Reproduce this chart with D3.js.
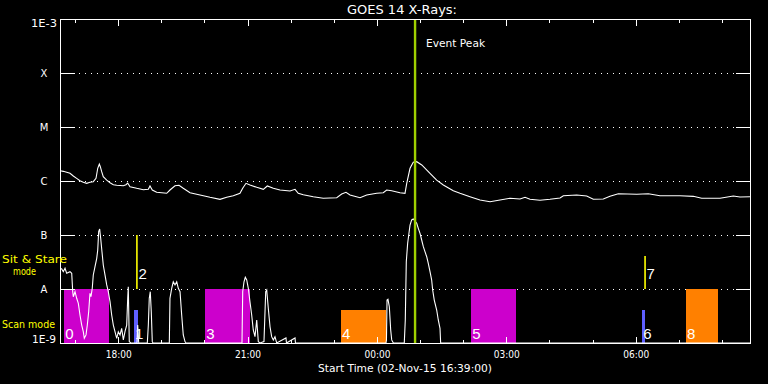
<!DOCTYPE html>
<html><head><meta charset="utf-8">
<script src="https://cdn.jsdelivr.net/npm/d3@7"></script>
<style>html,body{margin:0;padding:0;background:#000;overflow:hidden}</style>
</head><body>
<svg id="chart" width="768" height="384"></svg>
<script>
// ---------------- DATA ----------------
const startTime = "2015-11-02T16:39:00Z";
const spanHours = 16;
const titleText = "GOES 14 X-Rays:";
const xTitle = "Start Time (02-Nov-15 16:39:00)";
const classLevels = [1e-9, 1e-8, 1e-7, 1e-6, 1e-5, 1e-4, 1e-3];
const classLabels = ["1E-9", "A", "B", "C", "M", "X", "1E-3"];
const peakMinute = 494;            // Event Peak (00:53)
const peakLabel = "Event Peak";

// long channel (1-8 A), minutes after start, flux in 1e-6 W/m2
const longMinutes = [0,4.6,9.3,13.9,18.5,23.2,27.8,32.4,37.1,41.7,
  46.3,50.1,52.5,54.7,56.1,58.0,60.2,65.0,69.6,74.2,
  78.9,88.1,91.8,94.2,97.4,106.7,115.9,122.9,125.2,128.4,
  134.5,148.5,153.0,160.0,165.6,171.5,180.9,194.8,208.7,222.6,
  231.9,241.1,250.4,254.2,258.8,264.3,273.7,282.9,288.4,296.8,
  306.1,320.0,327.0,331.5,338.5,352.4,366.3,385.0,391.9,397.9,
  403.5,417.4,426.7,440.6,449.8,454.5,461.5,473.0,480.0,482.4,
  487.0,491.5,496.3,503.3,514.8,524.1,533.3,547.2,556.5,570.4,
  584.3,598.3,612.2,626.1,640.0,647.0,653.9,667.8,681.7,695.7,
  700.3,718.9,732.8,742.0,755.9,765.2,776.8,802.4,818.5,834.8,
  862.6,881.1,892.8,918.3,936.8,946.1,960];
const longFluxMicro = [1.55,1.51,1.45,1.39,1.24,1.12,1.01,0.946,0.906,0.946,
  0.97,1.12,1.72,2.06,1.84,1.49,1.20,1.04,0.93,0.854,
  0.833,0.818,0.854,0.918,0.784,0.732,0.69,0.702,0.808,0.681,
  0.617,0.592,0.681,0.818,0.833,0.732,0.607,0.55,0.499,0.458,
  0.499,0.534,0.592,0.732,0.906,0.843,0.764,0.702,0.808,0.732,
  0.681,0.653,0.702,0.592,0.557,0.512,0.478,0.49,0.574,0.617,
  0.55,0.49,0.55,0.592,0.607,0.681,0.661,0.607,0.592,0.906,
  1.72,2.22,2.28,1.98,1.39,1.04,0.843,0.661,0.592,0.512,
  0.445,0.414,0.445,0.478,0.464,0.499,0.458,0.44,0.458,0.484,
  0.534,0.55,0.527,0.458,0.464,0.52,0.581,0.567,0.581,0.534,
  0.534,0.52,0.478,0.478,0.527,0.505,0.512];

// short channel (0.5-4 A), minutes after start, flux in 1e-9 W/m2
const shortMinutes = [0,2.4,4.6,7.0,9.3,13.9,16.3,17.7,18.5,20.9,
  23.2,25.5,27.8,30.2,32.4,33.8,36.2,38.0,39.9,41.7,
  43.1,44.9,46.3,48.7,51.1,52.5,53.8,55.2,56.6,58.4,
  60.2,62.6,65.0,67.2,69.6,71.9,74.2,76.5,78.9,81.1,
  83.5,85.8,88.1,90.4,92.8,94.2,95.0,96.4,98.4,107.1,
  108.1,109.5,121.5,122.9,124.2,125.6,127.0,128.4,129.4,152.1,
  153.0,155.4,157.6,160.0,162.4,164.6,167.0,169.3,171.5,173.9,
  175.3,253.2,254.2,256.0,257.8,259.8,262.0,264.3,266.7,268.9,
  271.3,273.7,275.9,278.3,283.8,286.2,287.6,289.8,292.2,294.5,
  296.8,299.1,301.5,314.4,315.1,327.0,327.6,453.6,454.2,455.0,
  456.3,458.2,460.1,461.5,463.8,479.0,480.4,481.8,483.7,487.0,
  489.3,491.5,496.3,498.5,500.9,503.2,505.5,507.8,510.2,512.4,
  514.8,517.1,518.5,520.7,524.1,526.3,528.7,529.6,960];
const shortFluxNano = [24.2,23.5,20.9,24.2,19.5,20.9,19.5,8.91,7.2,8.91,
  6.73,5.43,3.30,2.15,1.62,1.22,1.41,2.15,3.80,8.32,
  7.2,10.3,18.2,25.9,37.0,52.7,115,129,86.9,49.1,
  27.8,18.2,11.9,8.91,5.82,3.30,2.15,1.62,1.22,1.62,
  1.41,1.87,1.14,1.62,2.15,6.73,11.0,1.06,1,1,
  2.15,1,1,2.15,6.73,8.91,3.80,1.06,1,1,
  6.73,10.3,13.6,11.9,13.6,10.3,8.91,3.30,1.41,1.06,
  1,1,8.91,13.6,16.5,14.7,10.3,5.82,3.30,1.74,
  1.31,2.67,1.06,1,1.06,8.91,9.58,4.39,2.0,1.31,
  1.14,1.31,1,1.24,1,1.24,1,1,1.14,6.25,
  6.45,4.70,1.74,1.14,1,1,2.67,32,70.2,153,
  190,198,165,133,107,80.8,60.7,49.1,39.6,29.9,
  20.9,14.7,9.58,6.25,4.08,2.67,1.87,1,1];

// scan / sit&stare observations (minutes after start)
const blockIds   = ["0", "1", "3", "4", "5", "6", "8"];
const blockStart = [6, 103, 202, 391, 572, 810, 871];
const blockEnd   = [68, 108, 264, 454, 634, 814, 915];
const blockTop   = [1e-8, 4.1e-9, 1e-8, 4.1e-9, 1e-8, 4.1e-9, 1e-8];
const blockKind  = ["magenta", "blue", "magenta", "orange", "magenta", "blue", "orange"];
const lineIds    = ["2", "7"];
const lineMinute = [107, 814];
const lineTop    = [1e-7, 4.1e-8];
const lineBottom = [1e-8, 1e-8];

// ---------------- CHART ----------------
const W = 768, H = 384;
const L = 60, T = 19, R = 750, B = 343;
const colors = {magenta: "#cc00cc", blue: "#5f5fff", orange: "#ff8000"};
const FONT = "'DejaVu Sans', sans-serif";

const t0 = new Date(startTime);
const toDate = m => new Date(t0.getTime() + m * 60000);
const x = d3.scaleUtc().domain([t0, toDate(spanHours * 60)]).range([L, R]);
const y = d3.scaleLog().domain([1e-9, 1e-3]).range([B, T]);

const svg = d3.select("#chart");
svg.append("rect").attr("width", W).attr("height", H).attr("fill", "#000");

svg.append("defs").append("clipPath").attr("id", "plot")
  .append("rect").attr("x", L).attr("y", T).attr("width", R - L).attr("height", B - T + 1);

// dotted grid lines at class levels
const grid = svg.append("g").attr("shape-rendering", "crispEdges");
grid.selectAll("line").data(classLevels.slice(1, 6)).join("line")
  .attr("x1", L + 19).attr("x2", R - 14)
  .attr("y1", d => Math.round(y(d)) + 0.5).attr("y2", d => Math.round(y(d)) + 0.5)
  .attr("stroke", "#fff").attr("stroke-width", 1).attr("stroke-dasharray", "1 5");

const plot = svg.append("g").attr("clip-path", "url(#plot)");

// blocks
const blocks = blockIds.map((id, i) => ({id, s: blockStart[i], e: blockEnd[i], top: blockTop[i], kind: blockKind[i]}));
plot.append("g").attr("shape-rendering", "crispEdges").selectAll("rect").data(blocks).join("rect")
  .attr("x", d => x(toDate(d.s)))
  .attr("width", d => x(toDate(d.e)) - x(toDate(d.s)))
  .attr("y", d => y(d.top))
  .attr("height", d => y(1e-9) - y(d.top))
  .attr("fill", d => colors[d.kind]);

// sit & stare lines
const slines = lineIds.map((id, i) => ({id, m: lineMinute[i], top: lineTop[i], bot: lineBottom[i]}));
plot.append("g").selectAll("line").data(slines).join("line")
  .attr("x1", d => x(toDate(d.m))).attr("x2", d => x(toDate(d.m)))
  .attr("y1", d => y(d.top)).attr("y2", d => y(d.bot))
  .attr("stroke", "#ffff00").attr("stroke-width", 1.6);

// curves
const line = d3.line().x(d => x(toDate(d[0]))).y(d => y(d[1]));
const longData = longMinutes.map((m, i) => [m, longFluxMicro[i] * 1e-6]);
const shortData = shortMinutes.map((m, i) => [m, shortFluxNano[i] * 1e-9]);
plot.append("path").datum(longData).attr("d", line)
  .attr("fill", "none").attr("stroke", "#fff").attr("stroke-width", 1.1);
plot.append("path").datum(shortData).attr("d", line)
  .attr("fill", "none").attr("stroke", "#fff").attr("stroke-width", 1.1);

// event peak
svg.append("line")
  .attr("x1", x(toDate(peakMinute))).attr("x2", x(toDate(peakMinute)))
  .attr("y1", T).attr("y2", B)
  .attr("stroke", "#a0d000").attr("stroke-width", 2.4);
svg.append("text").attr("x", x(toDate(peakMinute)) + 11).attr("y", 47)
  .attr("fill", "#fff").attr("font-family", FONT).attr("font-size", 10)
  .attr("textLength", 59).attr("lengthAdjust", "spacingAndGlyphs").text(peakLabel);

// block / line number labels
const numFont = "'Liberation Sans', Arial, sans-serif";
svg.append("g").selectAll("text").data(blocks).join("text")
  .attr("x", d => x(toDate(d.s)) + 1).attr("y", 338.5)
  .attr("fill", "#fff").attr("font-family", numFont).attr("font-size", 15).text(d => d.id);
svg.append("g").selectAll("text").data(slines).join("text")
  .attr("x", d => x(toDate(d.m)) + 1.5).attr("y", 278.5)
  .attr("fill", "#fff").attr("font-family", numFont).attr("font-size", 15).text(d => d.id);

// frame
svg.append("rect").attr("x", L + 0.5).attr("y", T + 0.5).attr("width", R - L).attr("height", B - T)
  .attr("fill", "none").attr("stroke", "#fff").attr("stroke-width", 1).attr("shape-rendering", "crispEdges");

// x axes (ticks inside)
function styleAxis(g) {
  g.select(".domain").remove();
  g.selectAll("line").attr("stroke", "#fff").attr("shape-rendering", "crispEdges");
}
svg.append("g").attr("transform", `translate(0,${B})`)
  .call(d3.axisBottom(x).ticks(d3.utcHour.every(1)).tickSize(-3.5).tickFormat("")).call(styleAxis);
svg.append("g").attr("transform", `translate(0,${T})`)
  .call(d3.axisTop(x).ticks(d3.utcHour.every(1)).tickSize(-4).tickFormat("")).call(styleAxis);
svg.append("g").attr("transform", `translate(0,${T})`)
  .call(d3.axisTop(x).ticks(d3.utcHour.every(3)).tickSize(-7).tickFormat("")).call(styleAxis);
const xb = svg.append("g").attr("transform", `translate(0,${B})`)
  .call(d3.axisBottom(x).ticks(d3.utcHour.every(3)).tickSize(-6).tickPadding(8).tickFormat(d3.utcFormat("%H:%M")))
  .call(styleAxis);
xb.selectAll("text").attr("fill", "#fff").attr("font-family", FONT).attr("font-size", 10)
  .attr("textLength", 26).attr("lengthAdjust", "spacingAndGlyphs");

// y axis ticks (left and right)
svg.append("g").attr("transform", `translate(${L},0)`)
  .call(d3.axisLeft(y).tickValues(classLevels).tickSize(-15).tickFormat("")).call(styleAxis);
svg.append("g").attr("transform", `translate(${R},0)`)
  .call(d3.axisRight(y).tickValues(classLevels).tickSize(-14).tickFormat("")).call(styleAxis);

// y labels
const ylab = svg.append("g").attr("fill", "#fff").attr("font-family", FONT).attr("font-size", 10);
classLevels.forEach((lv, i) => {
  const lab = classLabels[i];
  if (i === 0) {
    ylab.append("text").attr("x", 56).attr("y", y(lv)).attr("text-anchor", "end")
      .attr("textLength", 24).attr("lengthAdjust", "spacingAndGlyphs").text(lab);
  } else if (i === classLevels.length - 1) {
    ylab.append("text").attr("x", 57).attr("y", y(lv) + 8).attr("text-anchor", "end")
      .attr("textLength", 26).attr("lengthAdjust", "spacingAndGlyphs").text(lab);
  } else {
    ylab.append("text").attr("x", 44).attr("y", y(lv) + 4).attr("text-anchor", "middle")
      .attr("fill", "#ffffff").text(lab);
  }
});

// mode labels
const modes = svg.append("g").attr("fill", "#ffff00").attr("font-family", FONT);
modes.append("text").attr("x", 2).attr("y", 262.5).attr("font-size", 11)
  .attr("textLength", 65).attr("lengthAdjust", "spacingAndGlyphs").text("Sit & Stare");
modes.append("text").attr("x", 13).attr("y", 275).attr("font-size", 10)
  .attr("textLength", 23).attr("lengthAdjust", "spacingAndGlyphs").text("mode");
modes.append("text").attr("x", 2).attr("y", 328).attr("font-size", 10.5)
  .attr("textLength", 53).attr("lengthAdjust", "spacingAndGlyphs").text("Scan mode");

// titles
svg.append("text").attr("x", 347).attr("y", 14).attr("fill", "#fff").attr("font-family", FONT)
  .attr("font-size", 12.5).attr("textLength", 110).attr("lengthAdjust", "spacingAndGlyphs").text(titleText);
svg.append("text").attr("x", 318).attr("y", 372).attr("fill", "#fff").attr("font-family", FONT)
  .attr("font-size", 10.5).attr("textLength", 174).attr("lengthAdjust", "spacingAndGlyphs").text(xTitle);
</script>
</body></html>
